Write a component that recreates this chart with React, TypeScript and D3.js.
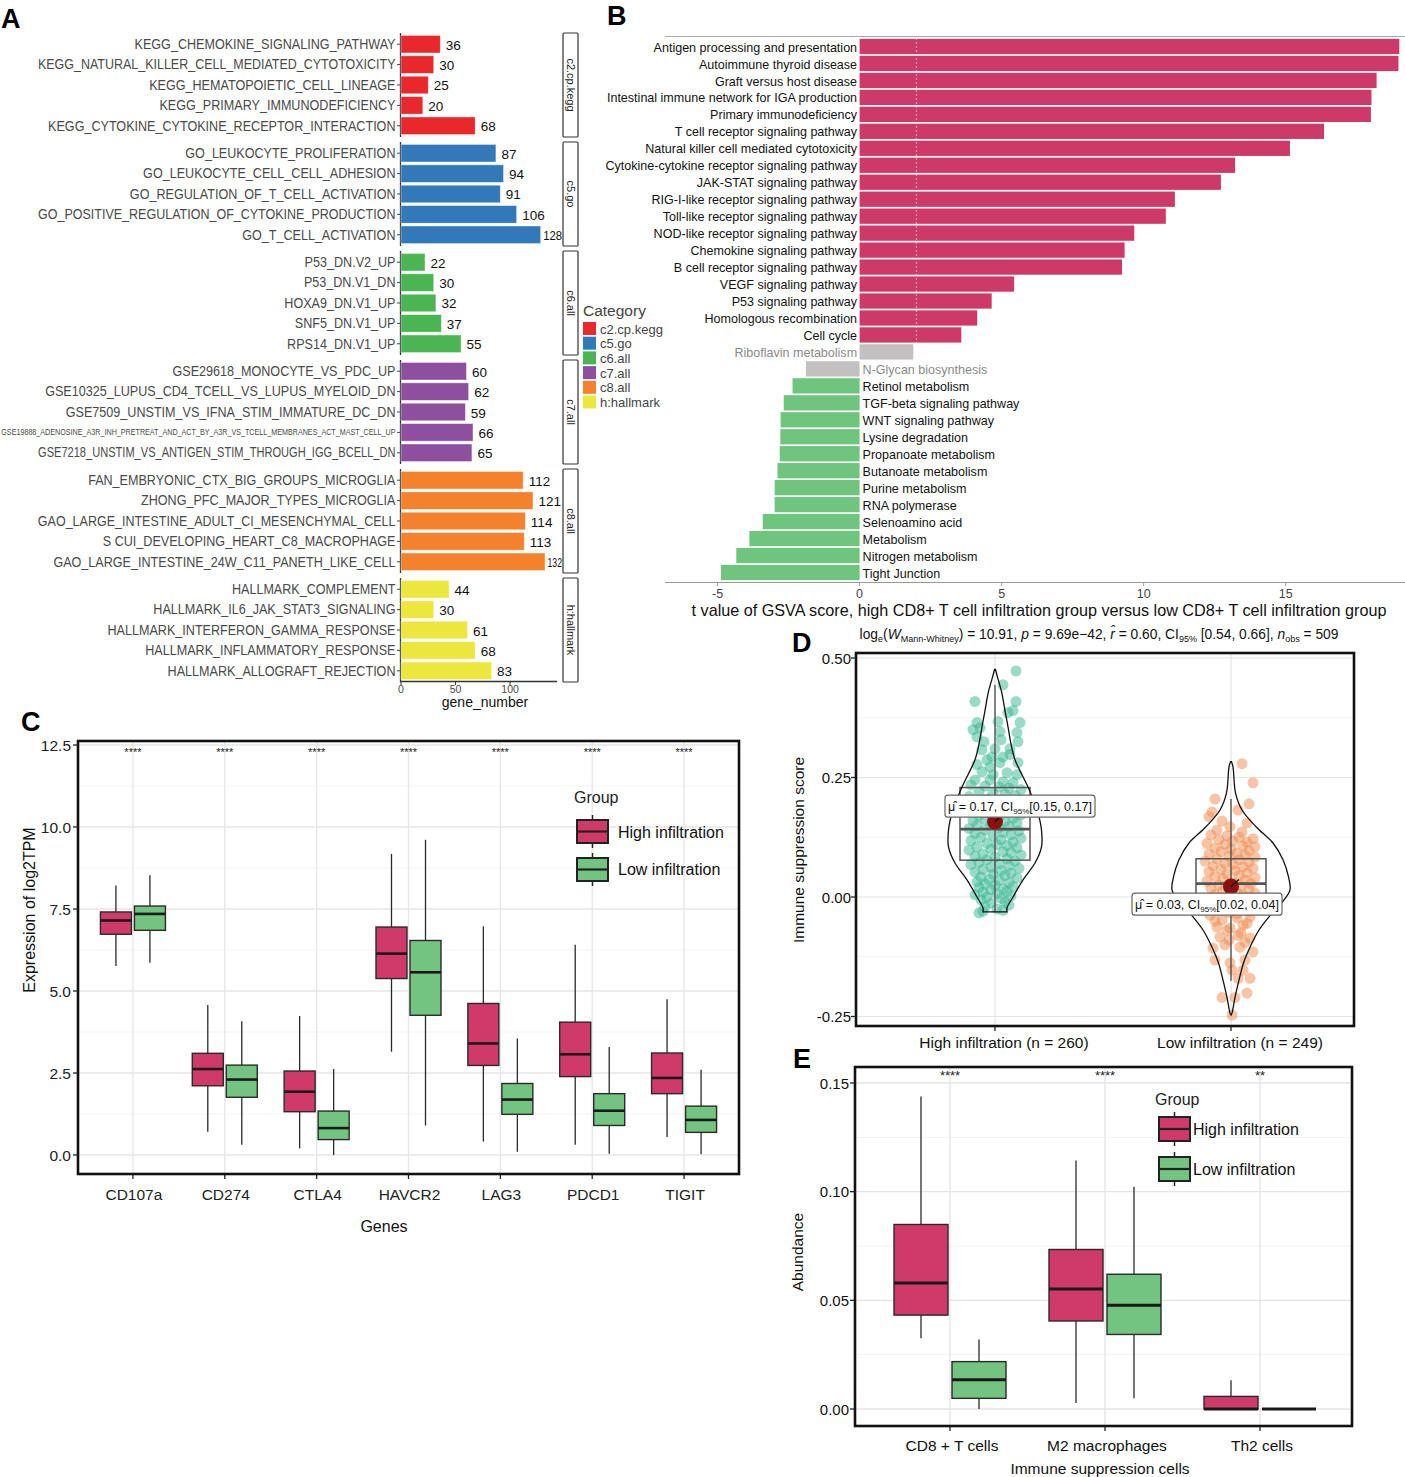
import React from "react";
import * as d3 from "d3";

const FONT = "'Liberation Sans', Arial, Helvetica, sans-serif";

// ---------------- Panel A data ----------------
const aCategories = ["c2.cp.kegg", "c5.go", "c6.all", "c7.all", "c8.all", "h:hallmark"];
const aCategoryColors = ["#e8282b", "#3179b8", "#4bb553", "#8d4f9e", "#f4812b", "#ebe73c"];
const keggTerms = ["KEGG_CHEMOKINE_SIGNALING_PATHWAY", "KEGG_NATURAL_KILLER_CELL_MEDIATED_CYTOTOXICITY", "KEGG_HEMATOPOIETIC_CELL_LINEAGE", "KEGG_PRIMARY_IMMUNODEFICIENCY", "KEGG_CYTOKINE_CYTOKINE_RECEPTOR_INTERACTION"];
const keggCounts = [36, 30, 25, 20, 68];
const goTerms = ["GO_LEUKOCYTE_PROLIFERATION", "GO_LEUKOCYTE_CELL_CELL_ADHESION", "GO_REGULATION_OF_T_CELL_ACTIVATION", "GO_POSITIVE_REGULATION_OF_CYTOKINE_PRODUCTION", "GO_T_CELL_ACTIVATION"];
const goCounts = [87, 94, 91, 106, 128];
const c6Terms = ["P53_DN.V2_UP", "P53_DN.V1_DN", "HOXA9_DN.V1_UP", "SNF5_DN.V1_UP", "RPS14_DN.V1_UP"];
const c6Counts = [22, 30, 32, 37, 55];
const c7Terms = ["GSE29618_MONOCYTE_VS_PDC_UP", "GSE10325_LUPUS_CD4_TCELL_VS_LUPUS_MYELOID_DN", "GSE7509_UNSTIM_VS_IFNA_STIM_IMMATURE_DC_DN", "GSE19888_ADENOSINE_A3R_INH_PRETREAT_AND_ACT_BY_A3R_VS_TCELL_MEMBRANES_ACT_MAST_CELL_UP", "GSE7218_UNSTIM_VS_ANTIGEN_STIM_THROUGH_IGG_BCELL_DN"];
const c7Counts = [60, 62, 59, 66, 65];
const c8Terms = ["FAN_EMBRYONIC_CTX_BIG_GROUPS_MICROGLIA", "ZHONG_PFC_MAJOR_TYPES_MICROGLIA", "GAO_LARGE_INTESTINE_ADULT_CI_MESENCHYMAL_CELL", "S CUI_DEVELOPING_HEART_C8_MACROPHAGE", "GAO_LARGE_INTESTINE_24W_C11_PANETH_LIKE_CELL"];
const c8Counts = [112, 121, 114, 113, 132];
const hallmarkTerms = ["HALLMARK_COMPLEMENT", "HALLMARK_IL6_JAK_STAT3_SIGNALING", "HALLMARK_INTERFERON_GAMMA_RESPONSE", "HALLMARK_INFLAMMATORY_RESPONSE", "HALLMARK_ALLOGRAFT_REJECTION"];
const hallmarkCounts = [44, 30, 61, 68, 83];
const aTermGroups = [keggTerms, goTerms, c6Terms, c7Terms, c8Terms, hallmarkTerms];
const aCountGroups = [keggCounts, goCounts, c6Counts, c7Counts, c8Counts, hallmarkCounts];
const aTicks = [0, 50, 100];

// ---------------- Panel B data ----------------
const bPathways = [
  "Antigen processing and presentation", "Autoimmune thyroid disease", "Graft versus host disease",
  "Intestinal immune network for IGA production", "Primary immunodeficiency", "T cell receptor signaling pathway",
  "Natural killer cell mediated cytotoxicity", "Cytokine-cytokine receptor signaling pathway", "JAK-STAT signaling pathway",
  "RIG-I-like receptor signaling pathway", "Toll-like receptor signaling pathway", "NOD-like receptor signaling pathway",
  "Chemokine signaling pathway", "B cell receptor signaling pathway", "VEGF signaling pathway", "P53 signaling pathway",
  "Homologous recombination", "Cell cycle", "Riboflavin metabolism", "N-Glycan biosynthesis", "Retinol metabolism",
  "TGF-beta signaling pathway", "WNT signaling pathway", "Lysine degradation", "Propanoate metabolism",
  "Butanoate metabolism", "Purine metabolism", "RNA polymerase", "Selenoamino acid", "Metabolism",
  "Nitrogen metabolism", "Tight Junction",
];
const bTValues = [19.0, 18.97, 18.2, 18.02, 18.0, 16.35, 15.15, 13.22, 12.72, 11.1, 10.78, 9.67, 9.33, 9.24, 5.44, 4.65, 4.14, 3.58, 1.89, -1.89, -2.36, -2.67, -2.78, -2.79, -2.81, -2.89, -2.99, -2.99, -3.41, -3.88, -4.34, -4.88];
const bStatus = ["up", "up", "up", "up", "up", "up", "up", "up", "up", "up", "up", "up", "up", "up", "up", "up", "up", "up", "ns", "ns", "down", "down", "down", "down", "down", "down", "down", "down", "down", "down", "down", "down"];
const bTicks = [-5, 0, 5, 10, 15];

// ---------------- Panel C data ----------------
const cGenes = ["CD107a", "CD274", "CTLA4", "HAVCR2", "LAG3", "PDCD1", "TIGIT"];
// [lower whisker, Q1, median, Q3, upper whisker]
const cHighStats = [
  [5.76, 6.73, 7.15, 7.41, 8.22],
  [0.71, 2.11, 2.62, 3.10, 4.57],
  [0.20, 1.32, 1.93, 2.56, 4.24],
  [3.15, 5.38, 6.14, 6.95, 9.18],
  [0.41, 2.73, 3.40, 4.62, 6.97],
  [0.31, 2.39, 3.07, 4.05, 6.41],
  [0.55, 1.87, 2.35, 3.11, 4.75],
];
const cLowStats = [
  [5.86, 6.85, 7.35, 7.59, 8.53],
  [0.31, 1.76, 2.30, 2.74, 4.08],
  [0.0, 0.47, 0.82, 1.34, 2.62],
  [0.90, 4.26, 5.57, 6.54, 9.61],
  [0.10, 1.24, 1.69, 2.18, 3.55],
  [0.04, 0.90, 1.35, 1.87, 3.29],
  [0.02, 0.69, 1.07, 1.49, 2.60],
];
const cSignif = ["****", "****", "****", "****", "****", "****", "****"];
const cTicks = [0, 2.5, 5, 7.5, 10, 12.5];
const groupNames = ["High infiltration", "Low infiltration"];
const groupColors = ["#cf3a6b", "#73c480"];

// ---------------- Panel D data ----------------
const dGroups = ["High infiltration (n = 260)", "Low infiltration (n = 249)"];
const dTicks = [-0.25, 0, 0.25, 0.5];
const dHighBox = [-0.031, 0.077, 0.142, 0.229, 0.444];
const dLowBox = [-0.175, -0.02, 0.028, 0.08, 0.205];
const dMeans = [0.158, 0.022];
const dMeanLabels = ["0.17", "0.03"];
const dCiLabels = ["[0.15, 0.17]", "[0.02, 0.04]"];
// [score, half width of violin]
const dHighViolin = [[0.476, 0.5], [0.46, 2.5], [0.43, 6.5], [0.39, 10], [0.356, 13], [0.32, 16], [0.287, 20], [0.26, 26], [0.23, 33], [0.2, 39], [0.176, 43], [0.14, 46.5], [0.105, 46.5], [0.071, 40], [0.036, 28], [0.0, 18], [-0.023, 12], [-0.031, 12]];
const dLowViolin = [[0.283, 0.5], [0.272, 2], [0.218, 4.5], [0.182, 11], [0.147, 25], [0.113, 42], [0.078, 52], [0.042, 57.5], [0.015, 59], [-0.006, 53], [-0.034, 41], [-0.069, 28], [-0.105, 19], [-0.138, 12.5], [-0.174, 8], [-0.21, 4], [-0.243, 1], [-0.247, 0]];
// [score, jitter offset in 1/26 of jitter half-width]
const dHighPoints = [
  [0.473, 21], [0.444, 8], [0.409, -20], [0.409, 21], [0.39, 18], [0.386, 13], [0.365, -18], [0.365, 25], [0.367, 3], [0.35, -22], [0.354, -15], [0.346, 5], [0.344, 22], [0.335, -18], [0.329, 6], [0.325, 23], [0.325, -11], [0.308, -13], [0.31, 0], [0.31, 15], [0.293, -3], [0.287, -8], [0.293, 8], [0.298, 15], [0.281, 23], [0.277, -18], [0.272, -5], [0.281, 5], [0.26, 12], [0.262, -13], [0.256, -2], [0.256, 22], [0.245, -20], [0.245, -5], [0.241, 8], [0.239, 18],
  [0.235, -24], [0.232, -10], [0.23, 4], [0.228, 14], [0.225, 26], [0.22, -16], [0.218, -2], [0.215, 10], [0.212, 20], [0.21, -26], [0.205, -8], [0.203, 2], [0.2, 16], [0.198, 24], [0.195, -20], [0.19, -12], [0.188, 6], [0.185, -2], [0.183, 20], [0.18, -24], [0.178, 12], [0.175, -6], [0.172, 26], [0.17, -16], [0.168, 4], [0.165, 18], [0.162, -10], [0.16, -22], [0.158, 10], [0.155, 22], [0.152, -4], [0.15, -18], [0.148, 14], [0.145, 4], [0.143, -26], [0.14, -10], [0.138, 24], [0.135, 8], [0.133, -20], [0.13, 16], [0.128, -2], [0.125, -14], [0.123, 26], [0.12, 6], [0.118, -24], [0.115, 18], [0.112, -8], [0.11, 2], [0.108, 12], [0.105, -18], [0.103, 22], [0.1, -4], [0.098, -26], [0.095, 8], [0.093, 16], [0.09, -12], [0.088, 26], [0.085, -20], [0.083, 0], [0.08, 12], [0.078, -8], [0.075, 20], [0.072, -16], [0.07, 4], [0.068, -24], [0.065, 14], [0.062, -4], [0.06, 24], [0.058, -12], [0.055, 6], [0.052, -20], [0.05, 16], [0.048, -2], [0.045, 10], [0.042, -14], [0.04, 22], [0.037, -6], [0.035, 4], [0.032, -18], [0.03, 14], [0.027, -10], [0.025, 0], [0.022, 18], [0.02, -16], [0.017, 8], [0.015, -4], [0.012, 12], [0.01, -12], [0.007, 2], [0.005, -20], [0.002, 16], [0.0, -8], [-0.003, 6], [-0.006, -14], [-0.01, 10], [-0.013, -4], [-0.017, 14], [-0.02, -10], [-0.025, 2], [-0.03, -12], [-0.033, -16], [-0.028, 8],
];
const dLowPoints = [
  [0.279, 11], [0.239, 22], [0.205, -16], [0.195, 18], [0.178, -19], [0.168, -22], [0.159, -9], [0.147, -1], [0.182, 7], [0.155, 16], [0.14, -14], [0.136, 11],
  [0.13, -20], [0.128, -4], [0.125, 8], [0.122, 22], [0.12, -12], [0.117, 2], [0.115, 16], [0.112, -24], [0.11, -6], [0.107, 12], [0.105, 24], [0.102, -16], [0.1, 0], [0.097, 18], [0.095, -10], [0.092, 6], [0.09, -22], [0.088, 14], [0.085, -2], [0.083, 24], [0.08, -14], [0.078, 8], [0.075, -26], [0.073, 18], [0.07, -6], [0.068, 2], [0.065, -18], [0.063, 12], [0.06, 22], [0.058, -10], [0.055, 4], [0.053, -22], [0.05, 16], [0.048, -4], [0.045, 8], [0.043, -16], [0.04, 24], [0.038, -8], [0.035, 14], [0.033, -24], [0.03, 2], [0.028, 20], [0.025, -12], [0.023, 10], [0.02, -2], [0.018, -20], [0.015, 18], [0.013, -8], [0.01, 6], [0.008, 24], [0.005, -16], [0.003, 12], [0.0, -4], [-0.003, 20], [-0.005, -22], [-0.008, 4], [-0.01, -10], [-0.013, 14], [-0.015, -18], [-0.018, 0], [-0.02, 22], [-0.023, -6], [-0.025, 10], [-0.028, -14], [-0.03, 18], [-0.033, -2], [-0.035, 6],
  [-0.038, -21], [-0.048, -9], [-0.044, 6], [-0.042, 19], [-0.063, -14], [-0.065, -1], [-0.059, 12], [-0.084, -11], [-0.08, 7], [-0.086, 19], [-0.107, -18], [-0.105, 9], [-0.115, 22], [-0.132, -16], [-0.138, -1], [-0.132, 14], [-0.153, 1], [-0.153, 12], [-0.17, 19], [-0.17, 7], [-0.201, 16], [-0.21, -9], [-0.21, 4], [-0.247, 1],
  [-0.05, -16], [-0.055, 16], [-0.07, -4], [-0.075, 10], [-0.09, -2], [-0.095, 14], [-0.1, -6],
];
const dPointColors = ["#36b892", "#f08a4b"];

// ---------------- Panel E data ----------------
const eCells = ["CD8 + T cells", "M2 macrophages", "Th2 cells"];
const eHighStats = [
  [0.0325, 0.0432, 0.058, 0.0849, 0.1438],
  [0.0028, 0.0405, 0.0552, 0.0734, 0.1143],
  [0.0, 0.0, 0.0, 0.0058, 0.0132],
];
const eLowStats = [
  [0.0, 0.0049, 0.0135, 0.0218, 0.032],
  [0.0049, 0.0343, 0.0477, 0.062, 0.1023],
  [0.0, 0.0, 0.0, 0.0, 0.0],
];
const eSignif = ["****", "****", "**"];
const eTicks = [0, 0.05, 0.1, 0.15];

// ---------------- helpers ----------------
let measureCtx = null;
function measure(txt, fs) {
  if (!measureCtx) measureCtx = document.createElement("canvas").getContext("2d");
  measureCtx.font = `${fs}px 'Liberation Sans', Arial, sans-serif`;
  return measureCtx.measureText(txt).width;
}

function Box({ cx, w, stats, y, fill, stroke = "#2a2a2a", medW = 2.6 }) {
  const [lo, q1, med, q3, hi] = stats;
  return (
    <g>
      <line x1={cx} x2={cx} y1={y(hi)} y2={y(q3)} stroke={stroke} strokeWidth={1.3} />
      <line x1={cx} x2={cx} y1={y(q1)} y2={y(lo)} stroke={stroke} strokeWidth={1.3} />
      <rect x={cx - w / 2} y={y(q3)} width={w} height={Math.max(0, y(q1) - y(q3))} fill={fill} stroke={stroke} strokeWidth={1.4} />
      <line x1={cx - w / 2} x2={cx + w / 2} y1={y(med)} y2={y(med)} stroke="#1a1a1a" strokeWidth={medW} />
    </g>
  );
}

function LegendKey({ x, y, w, h, fill }) {
  return (
    <g>
      <line x1={x + w / 2} x2={x + w / 2} y1={y - 5} y2={y + h + 5} stroke="#222" strokeWidth={1.5} />
      <rect x={x} y={y} width={w} height={h} fill={fill} stroke="#222" strokeWidth={2} />
      <line x1={x} x2={x + w} y1={y + h / 2} y2={y + h / 2} stroke="#222" strokeWidth={2.2} />
    </g>
  );
}

function PanelLetter({ x, y, t }) {
  return <text x={x} y={y} fontSize={27} fontWeight="bold" fill="#000">{t}</text>;
}

// ---------------- Panel A ----------------
function PanelA() {
  const x = d3.scaleLinear().domain([0, 143]).range([401, 557]);
  const facet = d3.scaleBand().domain(aCategories).range([33, 682]).paddingInner(0.046);
  const stripX = 563;
  return (
    <g>
      <PanelLetter x={1} y={28} t="A" />
      {aCategories.map((cat, i) => {
        const top = facet(cat);
        const h = facet.bandwidth();
        return (
          <g key={cat}>
            <line x1={400.5} x2={400.5} y1={top} y2={top + h} stroke="#333" strokeWidth={1.3} />
            <rect x={stripX} y={top} width={15} height={h} fill="#fff" stroke="#333" strokeWidth={1.2} rx={1} />
            <text transform={`translate(${stripX + 7.5},${top + h / 2}) rotate(90)`} textAnchor="middle" dominantBaseline="central" fontSize={11} fill="#222">{cat}</text>
          </g>
        );
      })}
      {aCategories.map((cat, i) => {
        const top = facet(cat);
        const h = facet.bandwidth();
        const rows = d3.scaleBand().domain(aTermGroups[i]).range([top, top + h]).paddingInner(0.14).paddingOuter(0.12);
        return (
          <g key={cat}>
            {aTermGroups[i].map((term, j) => {
              const v = aCountGroups[i][j];
              const cy = rows(term) + rows.bandwidth() / 2;
              const small = term.length > 60;
              const fs = small ? 8.4 : 14;
              const maxW = small ? 394 : 358;
              const sx = Math.min(0.9, maxW / measure(term, fs));
              const end = x(v);
              const lab = String(v);
              let vfs = 13.5;
              let gap = 5.5;
              let vsx = 1;
              if (end + gap + measure(lab, vfs) > stripX - 1) {
                vfs = 12;
                gap = 2.5;
                const avail = stripX - 1 - end - gap;
                const w = measure(lab, vfs);
                if (w > avail) vsx = avail / w;
              }
              return (
                <g key={term}>
                  <rect x={x(0)} y={rows(term)} width={end - x(0)} height={rows.bandwidth()} fill={aCategoryColors[i]} stroke="#ffffff" strokeOpacity={0.5} strokeWidth={0.8} />
                  <line x1={397} x2={400.5} y1={cy} y2={cy} stroke="#444" strokeWidth={1} />
                  <text transform={`translate(395.5,${cy}) scale(${sx},1)`} textAnchor="end" dominantBaseline="central" fontSize={fs} fill="#4a4a4a">{term}</text>
                  <text transform={`translate(${end + gap},${cy + 1}) scale(${vsx},1)`} dominantBaseline="central" fontSize={vfs} fill="#111">{lab}</text>
                </g>
              );
            })}
          </g>
        );
      })}
      <line x1={400.5} x2={557} y1={681.5} y2={681.5} stroke="#333" strokeWidth={1.3} />
      {aTicks.map((t) => (
        <g key={t}>
          <line x1={x(t)} x2={x(t)} y1={681.5} y2={685} stroke="#333" strokeWidth={1} />
          <text x={x(t)} y={689} textAnchor="middle" dominantBaseline="central" fontSize={10.5} fill="#4a4a4a">{t}</text>
        </g>
      ))}
      <text x={485} y={702} textAnchor="middle" dominantBaseline="central" fontSize={14} fill="#111">gene_number</text>
      <text x={583} y={310} dominantBaseline="central" fontSize={15.5} fill="#444">Category</text>
      {aCategories.map((cat, i) => (
        <g key={cat}>
          <rect x={583} y={322 + i * 14.7} width={13} height={13} fill={aCategoryColors[i]} />
          <text x={600} y={329 + i * 14.7} dominantBaseline="central" fontSize={13} fill="#444">{cat}</text>
        </g>
      ))}
    </g>
  );
}

// ---------------- Panel B ----------------
function PanelB() {
  const x = d3.scaleLinear().domain([-6.85, 19.2]).range([665, 1405]);
  const y = d3.scaleBand().domain(bPathways).range([38, 581]).paddingInner(0.1).paddingOuter(0.05);
  const color = { up: "#cd3a6a", ns: "#c2c0c1", down: "#6fc47e" };
  const x0 = x(0);
  return (
    <g>
      <PanelLetter x={607} y={25} t="B" />
      <line x1={665} x2={1405} y1={36.5} y2={36.5} stroke="#aaa" strokeWidth={1.2} />
      {bPathways.map((p, i) => {
        const v = bTValues[i];
        const cy = y(p) + y.bandwidth() / 2;
        const st = bStatus[i];
        return (
          <g key={p}>
            <rect x={Math.min(x(v), x0)} y={y(p)} width={Math.abs(x(v) - x0)} height={y.bandwidth()} fill={color[st]} />
            <text transform={`translate(${v > 0 ? x0 - 2.5 : x0 + 3},${cy + 0.5}) scale(0.965,1)`} textAnchor={v > 0 ? "end" : "start"} dominantBaseline="central" fontSize={13} fill={st === "ns" ? "#8a8a8a" : "#111"}>{p}</text>
          </g>
        );
      })}
      <line x1={x(2)} x2={x(2)} y1={38} y2={352} stroke="#fff" strokeOpacity={0.7} strokeWidth={0.8} strokeDasharray="2,2" />
      <line x1={665} x2={1405} y1={582.5} y2={582.5} stroke="#999" strokeWidth={1.2} />
      {bTicks.map((t) => (
        <g key={t}>
          <line x1={x(t)} x2={x(t)} y1={582.5} y2={586} stroke="#999" strokeWidth={1} />
          <text x={x(t)} y={594} textAnchor="middle" dominantBaseline="central" fontSize={12.5} fill="#444">{t}</text>
        </g>
      ))}
      <text x={1039} y={610} textAnchor="middle" dominantBaseline="central" fontSize={16.2} fill="#111">t value of GSVA score, high CD8+ T cell infiltration group versus low CD8+ T cell infiltration group</text>
    </g>
  );
}

// ---------------- Panel C ----------------
function PanelC() {
  const y = d3.scaleLinear().domain([0, 12.5]).range([1155, 745]);
  const x = d3.scaleBand().domain(cGenes).range([87, 730]);
  const frame = { x0: 78, x1: 739, y0: 741, y1: 1174 };
  const minor = d3.range(1.25, 12.5, 2.5);
  const dodge = 17, bw = 31;
  return (
    <g>
      <PanelLetter x={21} y={731} t="C" />
      <rect x={frame.x0} y={frame.y0} width={frame.x1 - frame.x0} height={frame.y1 - frame.y0} fill="#fff" />
      {minor.map((t) => <line key={"m" + t} x1={frame.x0} x2={frame.x1} y1={y(t)} y2={y(t)} stroke="#f0f0f0" strokeWidth={0.8} />)}
      {cTicks.map((t) => <line key={"g" + t} x1={frame.x0} x2={frame.x1} y1={y(t)} y2={y(t)} stroke="#e6e6e6" strokeWidth={1.3} />)}
      {cGenes.map((g) => {
        const cx = x(g) + x.bandwidth() / 2;
        return <line key={"v" + g} x1={cx} x2={cx} y1={frame.y0} y2={frame.y1} stroke="#e6e6e6" strokeWidth={1.3} />;
      })}
      {cGenes.map((g, i) => {
        const cx = x(g) + x.bandwidth() / 2;
        return (
          <g key={g}>
            <Box cx={cx - dodge} w={bw} stats={cHighStats[i]} y={y} fill={groupColors[0]} />
            <Box cx={cx + dodge} w={bw} stats={cLowStats[i]} y={y} fill={groupColors[1]} />
            <text x={cx} y={756} textAnchor="middle" fontSize={11} fill="#222">{cSignif[i]}</text>
            <line x1={cx} x2={cx} y1={frame.y1} y2={frame.y1 + 5} stroke="#222" strokeWidth={1.3} />
            <text x={cx + 1} y={1194} textAnchor="middle" dominantBaseline="central" fontSize={15.5} fill="#222">{g}</text>
          </g>
        );
      })}
      <rect x={frame.x0} y={frame.y0} width={frame.x1 - frame.x0} height={frame.y1 - frame.y0} fill="none" stroke="#111" strokeWidth={2.6} />
      {cTicks.map((t) => (
        <g key={t}>
          <line x1={frame.x0 - 5} x2={frame.x0} y1={y(t)} y2={y(t)} stroke="#222" strokeWidth={1.3} />
          <text x={71} y={y(t)} textAnchor="end" dominantBaseline="central" fontSize={15.5} fill="#222">{t.toFixed(1)}</text>
        </g>
      ))}
      <text transform={`translate(29,${910}) rotate(-90)`} textAnchor="middle" dominantBaseline="central" fontSize={16} fill="#111">Expression of log2TPM</text>
      <text x={384} y={1226} textAnchor="middle" dominantBaseline="central" fontSize={16} fill="#111">Genes</text>
      <text x={574} y={797} dominantBaseline="central" fontSize={16} fill="#222">Group</text>
      {groupNames.map((n, i) => (
        <g key={n}>
          <LegendKey x={577} y={820 + i * 38} w={31} h={23} fill={groupColors[i]} />
          <text x={618} y={832 + i * 37} dominantBaseline="central" fontSize={16} fill="#111">{n}</text>
        </g>
      ))}
    </g>
  );
}

// ---------------- Panel D ----------------
function MuLabel({ cx, cy, mean, ci }) {
  const w = 150, h = 22;
  return (
    <g>
      <rect x={cx - w / 2} y={cy - h / 2} width={w} height={h} rx={3} fill="#fff" stroke="#666" strokeWidth={1.2} />
      <text x={cx} y={cy + 4.5} textAnchor="middle" fontSize={12.5} fill="#111">
        <tspan>{"\u03bc\u0302 = " + mean + ", CI"}</tspan>
        <tspan fontSize={8} dy={3}>95%</tspan>
        <tspan dy={-3}>{ci}</tspan>
      </text>
    </g>
  );
}

function PanelD() {
  const y = d3.scaleLinear().domain([0, 0.5]).range([897, 658]);
  const x = d3.scalePoint().domain(dGroups).range([995, 1231]);
  const frame = { x0: 856, x1: 1354, y0: 653, y1: 1026 };
  const jitter = d3.scaleLinear().domain([-26, 26]).range([-26, 26]);
  const minor = [-0.125, 0.125, 0.375];
  const violins = [dHighViolin, dLowViolin];
  const points = [dHighPoints, dLowPoints];
  const boxes = [dHighBox, dLowBox];
  const labelOffsets = [[25, 0.19], [-24, -0.015]];
  return (
    <g>
      <PanelLetter x={792} y={652} t="D" />
      <text x={1099} y={639} textAnchor="middle" fontSize={13.8} fill="#111">
        <tspan>log</tspan><tspan fontSize={9} dy={3}>e</tspan><tspan dy={-3}>(</tspan>
        <tspan fontStyle="italic">W</tspan><tspan fontSize={9} dy={3}>Mann-Whitney</tspan><tspan dy={-3}>{") = 10.91, "}</tspan>
        <tspan fontStyle="italic">p</tspan><tspan>{" = 9.69e\u221242, "}</tspan>
        <tspan fontStyle="italic">{"r\u0302"}</tspan><tspan>{" = 0.60, CI"}</tspan>
        <tspan fontSize={9} dy={3}>95%</tspan><tspan dy={-3}>{" [0.54, 0.66], "}</tspan>
        <tspan fontStyle="italic">n</tspan><tspan fontSize={9} dy={3}>obs</tspan><tspan dy={-3}>{" = 509"}</tspan>
      </text>
      <rect x={frame.x0} y={frame.y0} width={frame.x1 - frame.x0} height={frame.y1 - frame.y0} fill="#fff" />
      {minor.map((t) => <line key={"m" + t} x1={frame.x0} x2={frame.x1} y1={y(t)} y2={y(t)} stroke="#f2f2f2" strokeWidth={0.9} />)}
      {dTicks.map((t) => <line key={"g" + t} x1={frame.x0} x2={frame.x1} y1={y(t)} y2={y(t)} stroke="#e4e4e4" strokeWidth={1.2} />)}
      {dGroups.map((g) => <line key={"v" + g} x1={x(g)} x2={x(g)} y1={frame.y0} y2={frame.y1} stroke="#e4e4e4" strokeWidth={1.2} />)}
      {dGroups.map((g, i) => {
        const cx = x(g);
        const area = d3.area().y((d) => y(d[0])).x0((d) => cx - d[1]).x1((d) => cx + d[1]).curve(d3.curveCatmullRom.alpha(0.5));
        const [lo, q1, med, q3, hi] = boxes[i];
        const mx = cx, my = y(dMeans[i]);
        const [lox, lov] = labelOffsets[i];
        return (
          <g key={g}>
            {points[i].map((p, k) => (
              <circle key={k} cx={cx + jitter(p[1])} cy={y(p[0])} r={5.5} fill={dPointColors[i]} fillOpacity={0.5} />
            ))}
            <line x1={cx} x2={cx} y1={y(hi)} y2={y(lo)} stroke="#555" strokeWidth={1.4} />
            <rect x={cx - 35} y={y(q3)} width={70} height={y(q1) - y(q3)} fill="none" stroke="#555" strokeWidth={1.5} />
            <line x1={cx - 35} x2={cx + 35} y1={y(med)} y2={y(med)} stroke="#555" strokeWidth={2.6} />
            <path d={area(violins[i])} fill="none" stroke="#111" strokeWidth={1.3} />
            <circle cx={mx} cy={my} r={8} fill="#8b1111" />
            <line x1={mx} x2={mx + 8} y1={my} y2={my - 7} stroke="#111" strokeWidth={1.3} />
            <MuLabel cx={cx + lox} cy={y(lov)} mean={dMeanLabels[i]} ci={dCiLabels[i]} />
            <line x1={cx} x2={cx} y1={frame.y1} y2={frame.y1 + 5} stroke="#222" strokeWidth={1.3} />
            <text x={cx + 9} y={1042} textAnchor="middle" dominantBaseline="central" fontSize={15.5} fill="#111">{g}</text>
          </g>
        );
      })}
      <rect x={frame.x0} y={frame.y0} width={frame.x1 - frame.x0} height={frame.y1 - frame.y0} fill="none" stroke="#111" strokeWidth={2.6} />
      {dTicks.map((t) => (
        <g key={t}>
          <line x1={frame.x0 - 5} x2={frame.x0} y1={y(t)} y2={y(t)} stroke="#222" strokeWidth={1.3} />
          <text x={851} y={y(t)} textAnchor="end" dominantBaseline="central" fontSize={15} fill="#111">{t.toFixed(2)}</text>
        </g>
      ))}
      <text transform={`translate(798,850) rotate(-90)`} textAnchor="middle" dominantBaseline="central" fontSize={15.5} fill="#111">Immune suppression score</text>
    </g>
  );
}

// ---------------- Panel E ----------------
function PanelE() {
  const y = d3.scaleLinear().domain([0, 0.15]).range([1409, 1083]);
  const x = d3.scalePoint().domain(eCells).range([950, 1260]);
  const frame = { x0: 855, x1: 1352, y0: 1067, y1: 1426 };
  const minor = [0.025, 0.075, 0.125];
  const dodge = 29, bw = 54;
  return (
    <g>
      <PanelLetter x={793} y={1068} t="E" />
      <rect x={frame.x0} y={frame.y0} width={frame.x1 - frame.x0} height={frame.y1 - frame.y0} fill="#fff" />
      {minor.map((t) => <line key={"m" + t} x1={frame.x0} x2={frame.x1} y1={y(t)} y2={y(t)} stroke="#f0f0f0" strokeWidth={0.9} />)}
      {eTicks.map((t) => <line key={"g" + t} x1={frame.x0} x2={frame.x1} y1={y(t)} y2={y(t)} stroke="#e4e4e4" strokeWidth={1.3} />)}
      {eCells.map((c) => <line key={"v" + c} x1={x(c)} x2={x(c)} y1={frame.y0} y2={frame.y1} stroke="#e4e4e4" strokeWidth={1.3} />)}
      {eCells.map((c, i) => {
        const cx = x(c);
        return (
          <g key={c}>
            <Box cx={cx - dodge} w={bw} stats={eHighStats[i]} y={y} fill={groupColors[0]} medW={3} />
            <Box cx={cx + dodge} w={bw} stats={eLowStats[i]} y={y} fill={groupColors[1]} medW={3} />
            <text x={cx} y={1080} textAnchor="middle" fontSize={13} fill="#222">{eSignif[i]}</text>
            <line x1={cx} x2={cx} y1={frame.y1} y2={frame.y1 + 5} stroke="#222" strokeWidth={1.3} />
            <text x={cx + 2} y={1445} textAnchor="middle" dominantBaseline="central" fontSize={15.5} fill="#111">{c}</text>
          </g>
        );
      })}
      <rect x={frame.x0} y={frame.y0} width={frame.x1 - frame.x0} height={frame.y1 - frame.y0} fill="none" stroke="#111" strokeWidth={2.6} />
      {eTicks.map((t) => (
        <g key={t}>
          <line x1={frame.x0 - 5} x2={frame.x0} y1={y(t)} y2={y(t)} stroke="#222" strokeWidth={1.3} />
          <text x={849} y={y(t)} textAnchor="end" dominantBaseline="central" fontSize={15} fill="#111">{t.toFixed(2)}</text>
        </g>
      ))}
      <text transform={`translate(797,1252) rotate(-90)`} textAnchor="middle" dominantBaseline="central" fontSize={15.5} fill="#111">Abundance</text>
      <text x={1100} y={1468} textAnchor="middle" dominantBaseline="central" fontSize={15.5} fill="#111">Immune suppression cells</text>
      <text x={1155} y={1099} dominantBaseline="central" fontSize={16} fill="#222">Group</text>
      {groupNames.map((n, i) => (
        <g key={n}>
          <LegendKey x={1159} y={1117 + i * 40} w={31} h={24} fill={groupColors[i]} />
          <text x={1193} y={1129 + i * 40} dominantBaseline="central" fontSize={16} fill="#111">{n}</text>
        </g>
      ))}
    </g>
  );
}

export default function App() {
  return (
    <svg width={1405} height={1477} viewBox="0 0 1405 1477" style={{ position: "absolute", left: 0, top: 0, background: "#fff" }} fontFamily={FONT}>
      <rect x={0} y={0} width={1405} height={1477} fill="#fff" />
      <PanelA />
      <PanelB />
      <PanelC />
      <PanelD />
      <PanelE />
    </svg>
  );
}
